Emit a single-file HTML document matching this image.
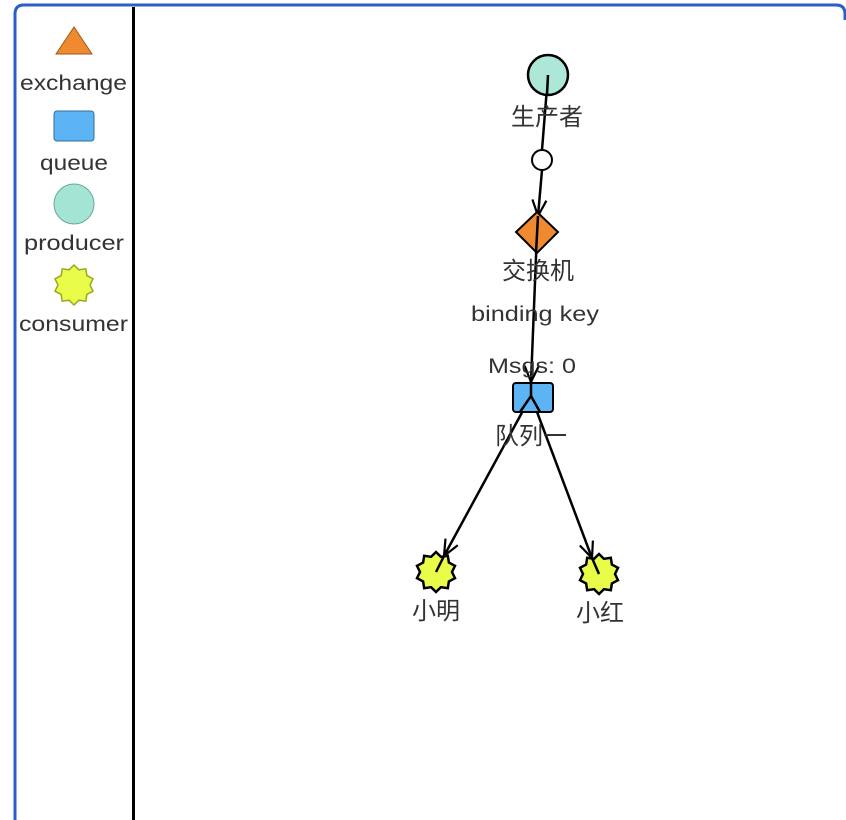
<!DOCTYPE html>
<html><head><meta charset="utf-8">
<style>
html,body{margin:0;padding:0;background:#fff;}
svg{display:block;}
text{font-family:"Liberation Sans","Noto Sans CJK SC",sans-serif;fill:#333;}
</style></head>
<body>
<svg width="846" height="820" viewBox="0 0 846 820" xmlns="http://www.w3.org/2000/svg">
<defs>
<marker id="ar" viewBox="0 0 20 20" refX="18" refY="10" markerWidth="20" markerHeight="20" markerUnits="userSpaceOnUse" orient="auto">
<path d="M2,3 L18,10 L2,17" fill="none" stroke="#000" stroke-width="2.2"/>
</marker>
</defs>
<path d="M15,820 L15,14 Q15,5 24,5 L836,5 Q845,5 845,14 L845,20" fill="none" stroke="#2a5fc9" stroke-width="3"/>
<line x1="133.5" y1="7" x2="133.5" y2="820" stroke="#000" stroke-width="3"/>
<polygon points="74,27 92,54 56,54" fill="#f08a30" stroke="#a0561a" stroke-width="1"/>
<text x="20" y="90" font-size="21" textLength="107" lengthAdjust="spacingAndGlyphs">exchange</text>
<rect x="54" y="111" width="40" height="30" rx="3" fill="#5db4f5" stroke="#2f6f9a" stroke-width="1"/>
<text x="40" y="170" font-size="21" textLength="68" lengthAdjust="spacingAndGlyphs">queue</text>
<circle cx="74" cy="204" r="20" fill="#a3e4d4" stroke="#6aa99a" stroke-width="1"/>
<text x="24" y="250" font-size="21" textLength="100" lengthAdjust="spacingAndGlyphs">producer</text>
<polygon id="s0" fill="#eafc4a" stroke="#9aa820" stroke-width="1.5"/>
<text x="19" y="331" font-size="21" textLength="109" lengthAdjust="spacingAndGlyphs">consumer</text>

<line x1="548" y1="75" x2="542" y2="150" stroke="#000" stroke-width="2.5"/>
<line x1="542" y1="170" x2="538" y2="216" stroke="#000" stroke-width="2.5" marker-end="url(#ar)"/>
<line x1="537" y1="232" x2="531" y2="382" stroke="#000" stroke-width="2.5" marker-end="url(#ar)"/>
<line x1="531" y1="396" x2="444" y2="556" stroke="#000" stroke-width="2.5" marker-end="url(#ar)"/>
<line x1="531" y1="396" x2="592" y2="558" stroke="#000" stroke-width="2.5" marker-end="url(#ar)"/>

<circle cx="548" cy="75" r="20" fill="#a3e4d4" fill-opacity="0.9" stroke="#000" stroke-width="2.5"/>
<line x1="548" y1="75" x2="547" y2="95" stroke="#000" stroke-width="2.5"/>
<text x="547" y="125" font-size="24" text-anchor="middle">生产者</text>
<circle cx="542" cy="160" r="10" fill="#fff" stroke="#000" stroke-width="2"/>
<polygon points="537,212 558,232 537,253 516,232" fill="#f08a30" stroke="#000" stroke-width="2"/>
<line x1="538" y1="216" x2="536" y2="253" stroke="#000" stroke-width="2.5"/>
<text x="538" y="279" font-size="24" text-anchor="middle">交换机</text>
<text x="471" y="321" font-size="21" textLength="128" lengthAdjust="spacingAndGlyphs">binding key</text>
<text x="488" y="373" font-size="21" textLength="88" lengthAdjust="spacingAndGlyphs">Msgs: 0</text>
<rect x="513" y="383" width="40" height="29" rx="3" fill="#5db4f5" stroke="#000" stroke-width="2"/>
<line x1="531" y1="380" x2="531" y2="396" stroke="#000" stroke-width="2.5"/>
<line x1="531" y1="396" x2="520" y2="412" stroke="#000" stroke-width="2.5"/>
<line x1="531" y1="396" x2="540" y2="412" stroke="#000" stroke-width="2.5"/>
<text x="531" y="444" font-size="24" text-anchor="middle">队列一</text>
<polygon id="s1" fill="#eafc4a" stroke="#000" stroke-width="2.5"/>
<polygon id="s2" fill="#eafc4a" stroke="#000" stroke-width="2.5"/>
<line x1="444" y1="556" x2="436" y2="572" stroke="#000" stroke-width="2.5"/>
<line x1="592" y1="558" x2="599" y2="574" stroke="#000" stroke-width="2.5"/>
<text x="436" y="619" font-size="24" text-anchor="middle">小明</text>
<text x="600" y="621" font-size="24" text-anchor="middle">小红</text>
</svg>
<script>
function star(id,cx,cy,R,r){var p=[];for(var i=0;i<20;i++){var a=Math.PI*2*i/20-Math.PI/2;var rr=i%2?r:R;p.push((cx+rr*Math.cos(a)).toFixed(1)+","+(cy+rr*Math.sin(a)).toFixed(1));}document.getElementById(id).setAttribute("points",p.join(" "));}
star("s0",74,285,20,16);
star("s1",436,572,20,16);
star("s2",599,574,20,16);
</script>
</body></html>
